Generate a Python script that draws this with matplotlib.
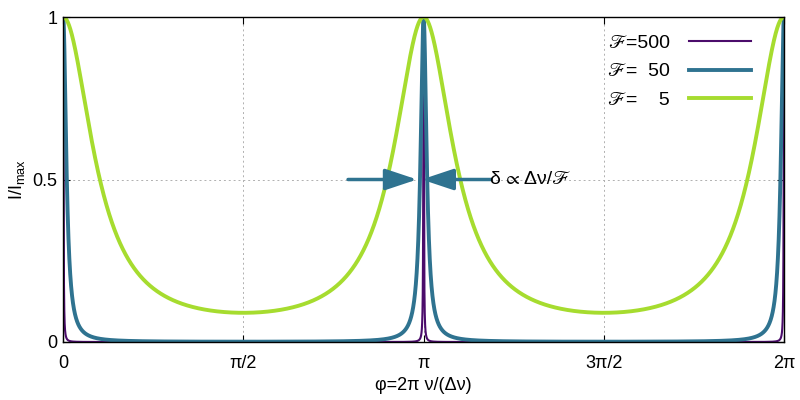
import numpy as np
import matplotlib.pyplot as plt

# Finesse values and colours of the three Airy curves
finesse = [500, 50, 5]
labels = ["\u2131=500", "\u2131=  50", "\u2131=    5"]
cores = ["#4b0c6b", "#2f7390", "#a6dc2f"]
larguras = [1.5, 2.8, 2.8]

xticks = [0, np.pi / 2, np.pi, 3 * np.pi / 2, 2 * np.pi]
xtick_labels = ["0", "\u03c0/2", "\u03c0", "3\u03c0/2", "2\u03c0"]
yticks = [0, 0.5, 1]
ytick_labels = ["0", "0.5", "1"]

plt.rcParams['font.family'] = ['Liberation Sans', 'STIXGeneral', 'DejaVu Sans']
plt.rcParams['font.size'] = 13

phi = np.linspace(0, 2 * np.pi, 200001)

fig = plt.figure(figsize=(8, 4), dpi=100)
ax = fig.add_axes([0.079, 0.145, 0.901, 0.8125])

for F, lab, c, lw in zip(finesse, labels, cores, larguras):
    I = 1 / (1 + (2 * F / np.pi) ** 2 * np.sin(phi) ** 2)
    ax.plot(phi, I, color=c, lw=lw, label=lab)

ax.set_xlim(0, 2 * np.pi)
ax.set_ylim(0, 1)
ax.set_xticks(xticks)
ax.set_xticklabels(xtick_labels)
ax.set_yticks(yticks)
ax.set_yticklabels(ytick_labels)
ax.tick_params(direction='in', top=True, right=True, length=5, labelsize=13)
ax.tick_params(axis='x', pad=9)
ax.tick_params(axis='y', pad=4)
ax.grid(True, color='#b0b0b0', linestyle=(0, (2, 3)), lw=0.7)
for s in ax.spines.values():
    s.set_linewidth(1.0)

ax.set_xlabel("\u03c6=2\u03c0 \u03bd/(\u0394\u03bd)", fontsize=13, labelpad=4)
ax.set_ylabel("I/I$_{\\mathregular{max}}$", fontsize=13, labelpad=4)

# width arrows around the central peak
seta = dict(arrowstyle='-|>,head_length=1.5,head_width=0.5', color=cores[1], lw=2.5,
            shrinkA=0, shrinkB=0)
ax.annotate("", xy=(3.085, 0.5), xytext=(2.483, 0.5), arrowprops=seta)
ax.annotate("", xy=(3.125, 0.5), xytext=(3.73, 0.5), arrowprops=seta)
ax.text(3.72, 0.5, "\u03b4 \u221d \u0394\u03bd/\u2131", fontsize=14, va='center', ha='left')

leg = ax.legend(loc='upper right', frameon=False, markerfirst=False, fontsize=14,
                handlelength=3.2, handletextpad=1.0, labelspacing=0.55,
                borderaxespad=0.5, bbox_to_anchor=(0.979, 1.0))
for t in leg.get_texts():
    t.set_ha('right')

fig.savefig("out.png", dpi=100)
